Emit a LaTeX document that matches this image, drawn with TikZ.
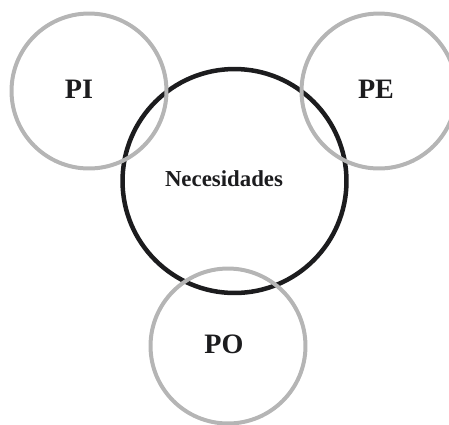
\documentclass[tikz,border=0pt]{standalone}
\usepackage{fontspec}
\setmainfont{Liberation Serif}
\definecolor{anillo}{RGB}{181,181,181}
\definecolor{tinta}{RGB}{28,28,30}
% circulo gris con su etiqueta: (nombre, x, y, texto, dx)
\def\grupo(#1,#2,#3,#4,#5){
  \node[draw=anillo, line width=0.08cm, shape=circle, minimum size=3.1cm, inner sep=0pt] (#1) at (#2,#3) {};
  \node[font=\fontsize{16}{18}\selectfont\bfseries, text=tinta] (#1_txt) at (#2+#5,#3-2) {#4};
}

\begin{document}
\begin{tikzpicture}[x=0.02cm, y=-0.02cm]
\useasboundingbox (0,0) rectangle (449,424);
\node[draw=tinta, line width=0.09cm, shape=circle, minimum size=4.48cm, inner sep=0pt] (nec) at (234.5,181) {};
\node[font=\fontsize{13}{15}\selectfont\bfseries, text=tinta] (nec_txt) at (224,179) {Necesidades};
\grupo(pi,89,91,PI,-10)
\grupo(pe,379,91,PE,-3)
\grupo(po,228,346,PO,-4)
\end{tikzpicture}
\end{document}
